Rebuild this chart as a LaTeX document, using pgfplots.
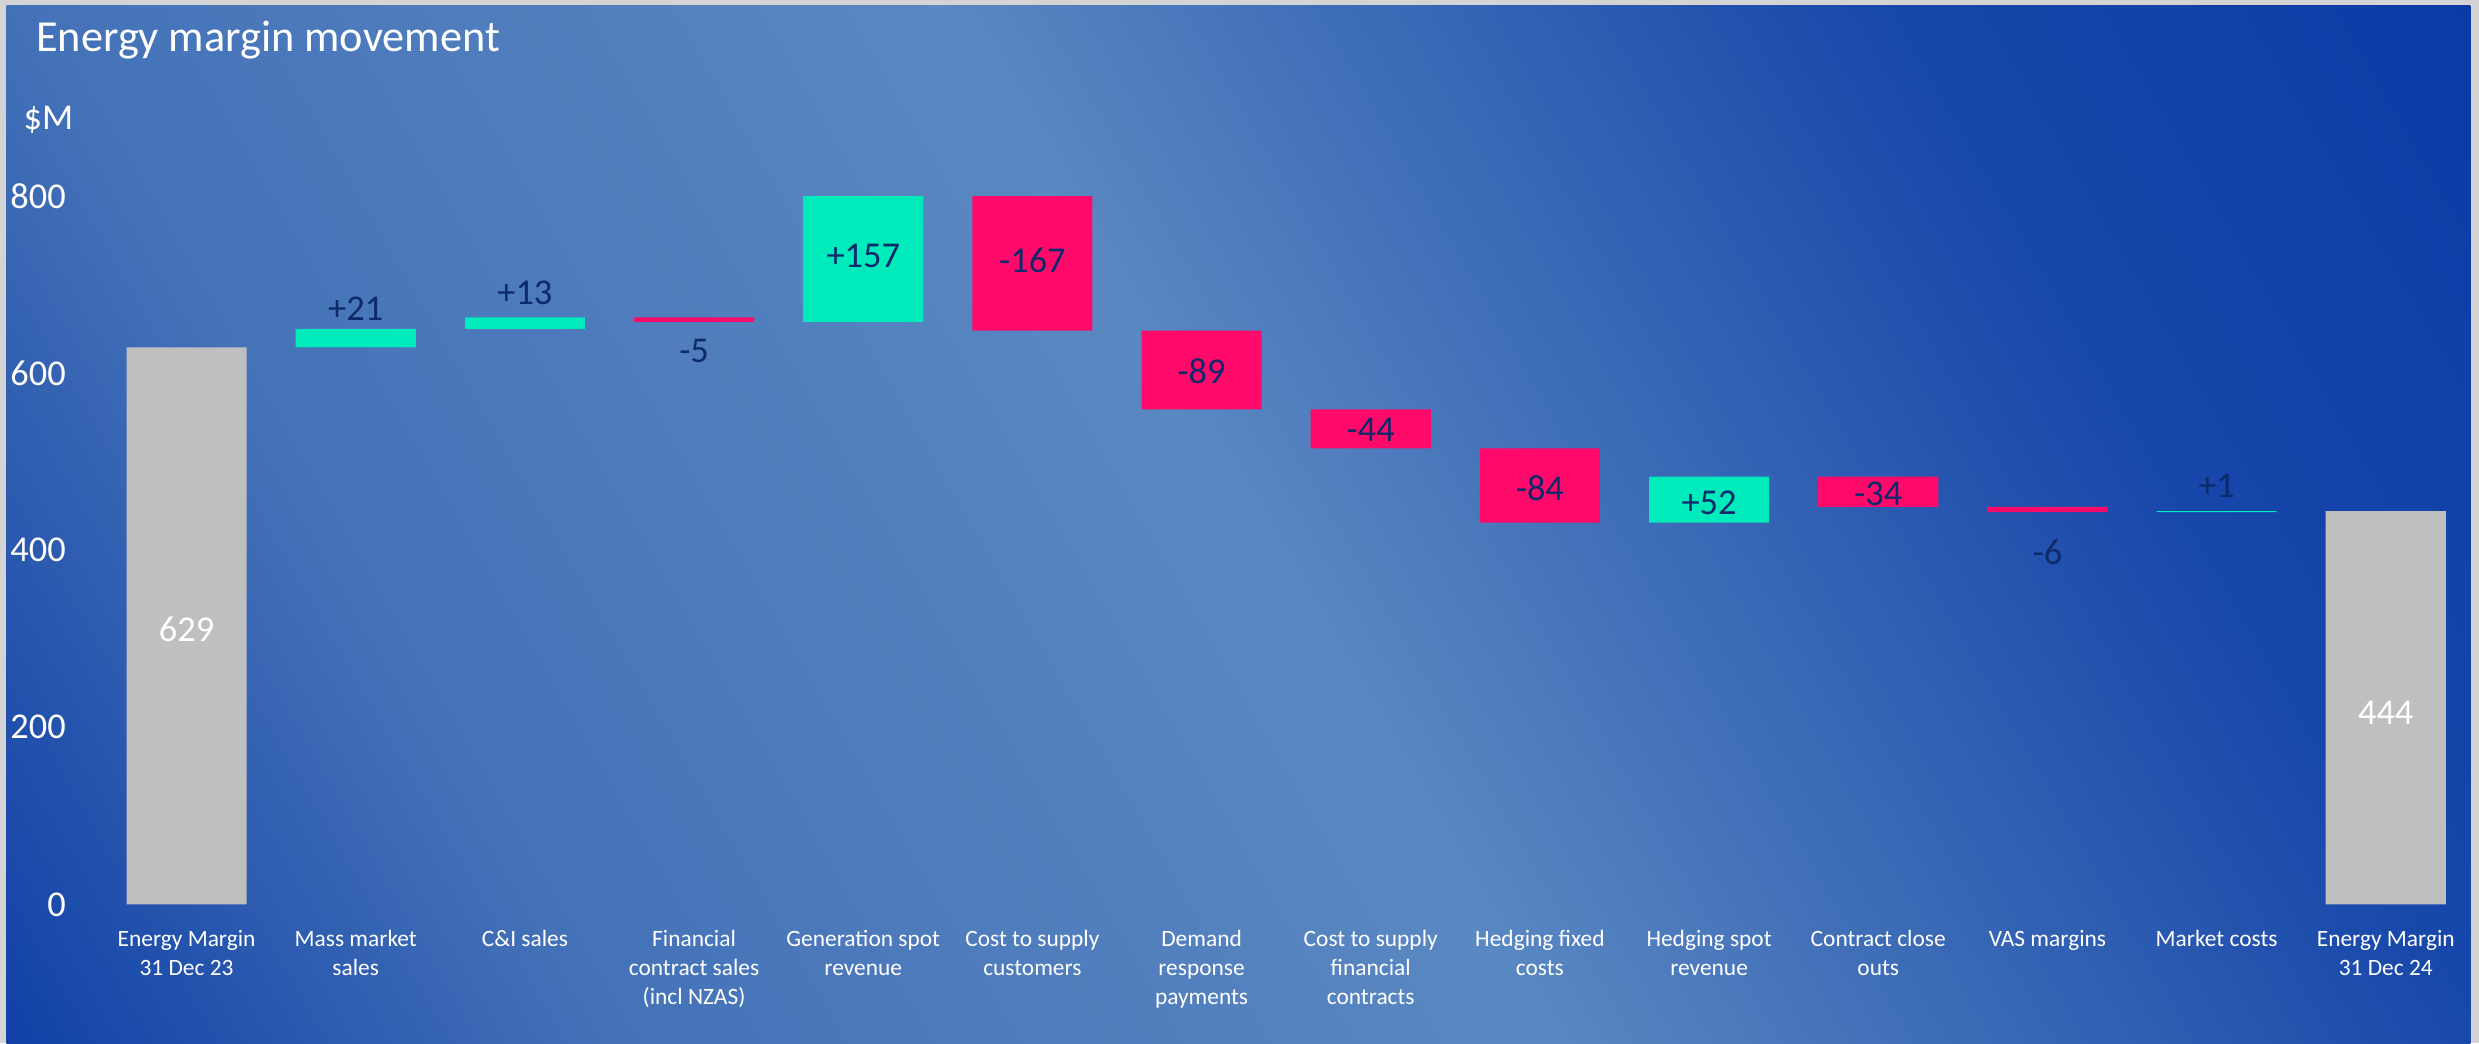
\documentclass[border=0pt]{standalone}
\usepackage{pgfplots}
\pgfplotsset{compat=1.18}
\usepackage{pgfplotstable}
\usepackage{fontspec}
\setmainfont{Carlito}
\definecolor{bgA}{HTML}{0A3AA5}
\definecolor{bgB}{HTML}{4472B8}
\definecolor{bgC}{HTML}{5A88C2}
\definecolor{bgD}{HTML}{1848AA}
\definecolor{bgE}{HTML}{0A38A6}
\definecolor{posc}{HTML}{00EBBB}
\definecolor{negc}{HTML}{FF0A6B}
\definecolor{totc}{HTML}{BFBFBF}
\definecolor{lblc}{HTML}{0E2A6A}
\definecolor{framec}{HTML}{D4D4D4}

\pgfplotstableread{
x base tot pos neg
0 0 629 0 0
1 629 0 21 0
2 650 0 13 0
3 658 0 0 5
4 658 0 157 0
5 648 0 0 167
6 559 0 0 89
7 515 0 0 44
8 431 0 0 84
9 431 0 52 0
10 449 0 0 34
11 443 0 0 6
12 443 0 1 0
13 0 444 0 0
}\bars

\pgfplotstableread{
x y label
1 673 +21
2 691 +13
3 625 -5
4 732 +157
5 727 -167
6 602 -89
7 536 -44
8 470 -84
9 454 +52
10 464 -34
11 398 -6
12 473 +1
}\deltalbl

\pgfplotstableread{
x y label
0 311 629
13 216 444
}\totlbl

\begin{document}
\begin{tikzpicture}
\useasboundingbox (0,0) rectangle (784pt,330pt);
\fill[framec] (0,0) rectangle (784pt,330pt);
\begin{scope}
\clip (2pt,0pt) rectangle (781.3pt,328.4pt);
\begin{scope}[overlay, transform canvas={rotate=30}]
\shade[left color=bgA, right color=bgB] (-20pt,-420pt) rectangle (170pt,320pt);
\shade[left color=bgB, right color=bgC] (168.8pt,-420pt) rectangle (423.5pt,320pt);
\shade[left color=bgC, right color=bgD] (422pt,-420pt) rectangle (676.5pt,320pt);
\shade[left color=bgD, right color=bgE] (675.2pt,-420pt) rectangle (870pt,320pt);
\end{scope}
\end{scope}

\node[anchor=base west, inner sep=0pt, text=white, font=\fontsize{14}{16}\selectfont] at (11.3pt,313.6pt) {Energy margin movement};
\node[anchor=base west, inner sep=0pt, text=white, font=\fontsize{11.5}{13}\selectfont] at (7.3pt,289pt) {\$M};

\begin{axis}[
  at={(32.25pt,44pt)}, anchor=south west,
  scale only axis, width=749pt, height=224pt,
  xmin=-0.5, xmax=13.5, ymin=0, ymax=800,
  enlargelimits=false,
  axis line style={draw=none},
  major tick length=0pt,
  tick style={draw=none},
  ytick={0,200,400,600,800},
  xtick={0,...,13},
  xticklabels={
    {\strut Energy Margin\\31 Dec 23},
    {\strut Mass market\\sales},
    {\strut C\&I sales},
    {\strut Financial\\contract sales\\(incl NZAS)},
    {\strut Generation spot\\revenue},
    {\strut Cost to supply\\customers},
    {\strut Demand\\response\\payments},
    {\strut Cost to supply\\financial\\contracts},
    {\strut Hedging fixed\\costs},
    {\strut Hedging spot\\revenue},
    {\strut Contract close\\outs},
    {\strut VAS margins},
    {\strut Market costs},
    {\strut Energy Margin\\31 Dec 24}},
  xticklabel style={anchor=north, align=center, inner sep=0pt, yshift=-6.76pt, text=white, font=\fontsize{7.4}{9.2}\selectfont},
  yticklabel style={anchor=east, inner sep=0pt, xshift=-11.25pt, text=white, font=\fontsize{11.5}{13}\selectfont, /pgf/number format/assume math mode=true},
  ybar stacked, bar width=0.71,
]
\addplot[fill=none, draw=none] table[x=x,y=base]{\bars};
\addplot[fill=totc, draw=none] table[x=x,y=tot]{\bars};
\addplot[fill=posc, draw=none] table[x=x,y=pos]{\bars};
\addplot[fill=negc, draw=none] table[x=x,y=neg]{\bars};
\end{axis}

\begin{axis}[
  at={(32.25pt,44pt)}, anchor=south west,
  scale only axis, width=749pt, height=224pt,
  xmin=-0.5, xmax=13.5, ymin=0, ymax=800,
  enlargelimits=false, hide axis, clip=false,
]
\addplot[only marks, mark=none, point meta=explicit symbolic,
  nodes near coords, nodes near coords style={anchor=center, inner sep=0pt, text=lblc, font=\fontsize{11.5}{13}\selectfont}]
  table[x=x,y=y,meta=label]{\deltalbl};
\addplot[only marks, mark=none, point meta=explicit symbolic,
  nodes near coords, nodes near coords style={anchor=center, inner sep=0pt, text=white, font=\fontsize{11.5}{13}\selectfont}]
  table[x=x,y=y,meta=label]{\totlbl};
\end{axis}
\end{tikzpicture}
\end{document}
